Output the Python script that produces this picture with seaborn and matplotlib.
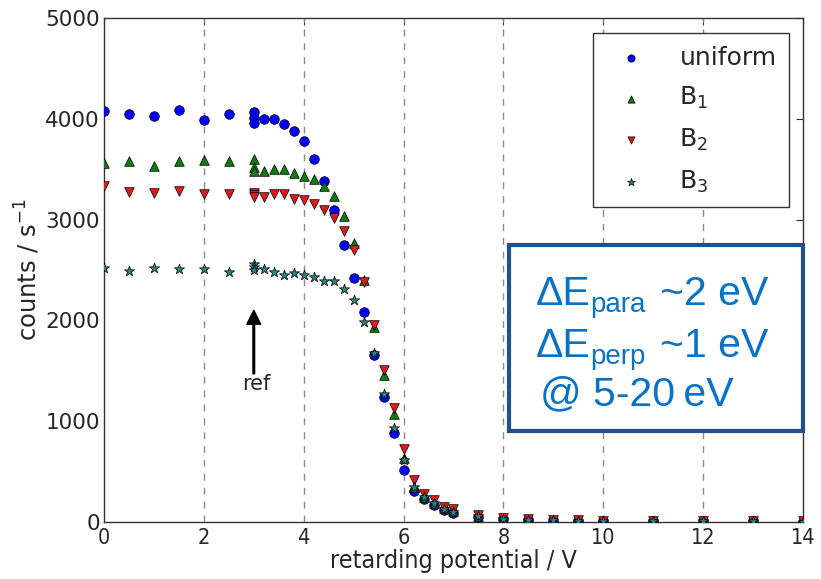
import numpy as np
import pandas as pd
import matplotlib
matplotlib.use("Agg")
import matplotlib.pyplot as plt
import matplotlib.transforms as mtransforms
from matplotlib.patches import Rectangle
import seaborn as sns

# ---------------- data ----------------
potential = [0, 0.5, 1, 1.5, 2, 2.5, 3, 3, 3,
             3.2, 3.4, 3.6, 3.8, 4.0, 4.2, 4.4, 4.6, 4.8, 5.0,
             5.2, 5.4, 5.6, 5.8, 6.0, 6.2, 6.4, 6.6, 6.8, 7.0,
             7.5, 8, 8.5, 9, 9.5, 10, 11, 12, 13, 14]

uniform = [4080, 4045, 4025, 4090, 3990, 4045, 4065, 4010, 3960,
           3995, 3995, 3950, 3880, 3780, 3600, 3385, 3100, 2745, 2420,
           2085, 1660, 1240, 885, 515, 305, 225, 170, 120, 90,
           45, 25, 18, 14, 12, 10, 8, 6, 5, 4]

b1 = [3565, 3585, 3530, 3580, 3590, 3580, 3600, 3525, 3480,
      3485, 3500, 3500, 3465, 3435, 3405, 3335, 3230, 3040, 2770,
      2400, 1935, 1460, 1070, 630, 350, 250, 185, 135, 105,
      60, 30, 20, 15, 12, 10, 8, 6, 5, 4]

b2 = [3330, 3270, 3260, 3285, 3255, 3250, 3265, 3240, 3225,
      3220, 3255, 3250, 3205, 3195, 3155, 3095, 3020, 2885, 2700,
      2385, 1955, 1510, 1135, 725, 415, 275, 215, 150, 125,
      70, 35, 25, 18, 15, 12, 10, 8, 7, 6]

b3 = [2515, 2495, 2515, 2505, 2505, 2480, 2555, 2525, 2500,
      2505, 2480, 2450, 2475, 2450, 2435, 2395, 2395, 2310, 2205,
      1980, 1675, 1270, 930, 620, 345, 245, 185, 130, 100,
      55, 28, 20, 15, 12, 10, 8, 6, 5, 4]

series_names = ["uniform", "B$_1$", "B$_2$", "B$_3$"]
series_values = [uniform, b1, b2, b3]

x_ticks = [0, 2, 4, 6, 8, 10, 12, 14]
y_ticks = [0, 1000, 2000, 3000, 4000, 5000]
grid_x = [2, 4, 6, 8, 10, 12]

# ---------------- style ----------------
sns.set_style("white")
plt.rcParams["font.family"] = ["DejaVu Sans"]
plt.rcParams["xtick.direction"] = "in"
plt.rcParams["ytick.direction"] = "in"
plt.rcParams["xtick.top"] = True
plt.rcParams["ytick.right"] = True

frames = []
for name, vals in zip(series_names, series_values):
    frames.append(pd.DataFrame({"V": potential, "counts": vals, "series": name}))
df = pd.concat(frames, ignore_index=True)

colors = {"uniform": "#0000ff", "B$_1$": "#117a11", "B$_2$": "#e01a1a", "B$_3$": "#2b8585"}
markers = {"uniform": "o", "B$_1$": "^", "B$_2$": "v", "B$_3$": "*"}
sizes = {"uniform": 48, "B$_1$": 48, "B$_2$": 48, "B$_3$": 60}

fig = plt.figure(figsize=(8.21, 5.79), dpi=100)
ax = fig.add_axes([104 / 821, 57 / 579, 699 / 821, 504 / 579])

for name in series_names:
    sub = df[df["series"] == name]
    sns.scatterplot(data=sub, x="V", y="counts", ax=ax, color=colors[name],
                    marker=markers[name], s=sizes[name], edgecolor="black",
                    linewidth=0.5, label=name, zorder=3)

for gx in grid_x:
    ax.axvline(gx, color="#8c8c8c", lw=1.0, ls=(0, (5, 5)), zorder=1)

ax.set_xlim(0, 14)
ax.set_ylim(0, 5000)
ax.set_xticks(x_ticks)
ax.set_yticks(y_ticks)
ax.tick_params(axis="both", labelsize=15.5, length=5, width=0.8, color="#333333")
ax.tick_params(axis="x", pad=4)
ax.tick_params(axis="y", pad=3)
for lab in ax.get_xticklabels():
    lab.set_fontstretch("condensed")
ax.set_xlabel("retarding potential / V", fontsize=18, labelpad=1, fontstretch="condensed")
ax.set_ylabel("counts / s$^{-1}$", fontsize=17.5, labelpad=2)
for sp in ax.spines.values():
    sp.set_color("#333333")
    sp.set_linewidth(1.0)

leg = ax.legend(loc="upper right", fontsize=18, markerscale=0.75, scatterpoints=1,
                frameon=True, fancybox=False, framealpha=1, edgecolor="#333333",
                borderpad=0.5, labelspacing=0.62, handletextpad=0.95,
                borderaxespad=0, bbox_to_anchor=(0.98, 0.97))
leg.get_frame().set_linewidth(1.0)

# arrow "ref"
ax.annotate("", xy=(3.0, 2100), xytext=(3.0, 1470),
            arrowprops=dict(facecolor="black", edgecolor="black", width=1.2,
                            headwidth=10, headlength=10, shrink=0))
ax.text(3.05, 1370, "ref", ha="center", va="center", fontsize=15)

# ---------------- annotation box (figure pixel coordinates) ----------------
H = 579
ident = mtransforms.IdentityTransform()
box = Rectangle((509, H - 431), 294, 186, transform=ident, facecolor="white",
                edgecolor="#22508c", lw=3.0, zorder=10)
fig.patches.append(box)

tc = "#0a72c4"
fam = ["Liberation Sans", "DejaVu Sans"]
big = 29.5
small = 20
fig.text(536, H - 305, "\u0394E", transform=ident, fontsize=big, color=tc, family=fam, va="baseline", zorder=11)
fig.text(590, H - 312, "para", transform=ident, fontsize=small, color=tc, family=fam, va="baseline", zorder=11)
fig.text(660, H - 305, "~2 eV", transform=ident, fontsize=big, color=tc, family=fam, va="baseline", zorder=11)
fig.text(536, H - 357, "\u0394E", transform=ident, fontsize=big, color=tc, family=fam, va="baseline", zorder=11)
fig.text(590, H - 364, "perp", transform=ident, fontsize=small, color=tc, family=fam, va="baseline", zorder=11)
fig.text(660, H - 357, "~1 eV", transform=ident, fontsize=big, color=tc, family=fam, va="baseline", zorder=11)
fig.text(540, H - 405, "@ 5-20\u2009eV", transform=ident, fontsize=big, color=tc, family=fam, va="baseline", zorder=11)

fig.savefig("out.png", dpi=100)
